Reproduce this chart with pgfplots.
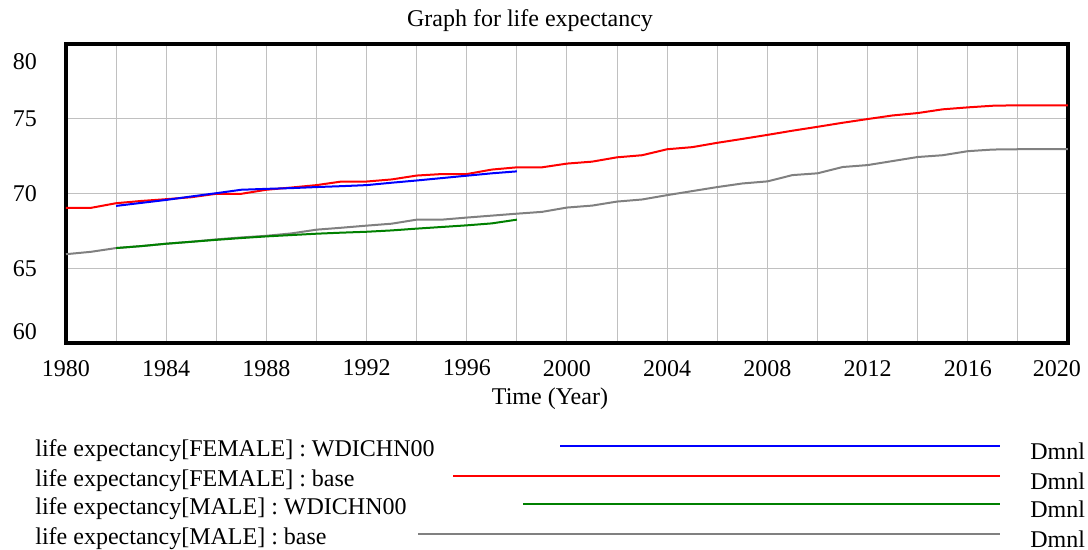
\documentclass[border=0pt]{standalone}
\usepackage{fontspec}
\setmainfont{Liberation Serif}
\usepackage{pgfplots}
\pgfplotsset{compat=1.18}

\definecolor{vred}{RGB}{255,0,0}
\definecolor{vblue}{RGB}{0,0,255}
\definecolor{vgreen}{RGB}{0,128,0}
\definecolor{vgray}{RGB}{128,128,128}
\definecolor{gridgray}{RGB}{192,192,192}

% life expectancy, female / male, base run and WDICHN00 data
\pgfplotstableread{
year val
1980 69.04
1981 69.04
1982 69.35
1983 69.50
1984 69.62
1985 69.75
1986 69.98
1987 69.98
1988 70.25
1989 70.40
1990 70.56
1991 70.80
1992 70.80
1993 70.94
1994 71.20
1995 71.30
1996 71.30
1997 71.60
1998 71.75
1999 71.75
2000 72.00
2001 72.13
2002 72.42
2003 72.56
2004 72.96
2005 73.10
2006 73.39
2007 73.65
2008 73.92
2009 74.20
2010 74.46
2011 74.73
2012 74.98
2013 75.22
2014 75.38
2015 75.63
2016 75.76
2017 75.87
2018 75.90
2019 75.90
2020 75.90
}\femalebase

\pgfplotstableread{
year val
1980 65.94
1981 66.10
1982 66.35
1983 66.48
1984 66.64
1985 66.77
1986 66.93
1987 67.06
1988 67.17
1989 67.33
1990 67.58
1991 67.71
1992 67.85
1993 67.98
1994 68.25
1995 68.25
1996 68.39
1997 68.52
1998 68.65
1999 68.77
2000 69.06
2001 69.19
2002 69.46
2003 69.60
2004 69.89
2005 70.16
2006 70.43
2007 70.67
2008 70.81
2009 71.23
2010 71.35
2011 71.77
2012 71.90
2013 72.17
2014 72.44
2015 72.56
2016 72.83
2017 72.94
2018 72.96
2019 72.96
2020 72.96
}\malebase

\pgfplotstableread{
year val
1982 69.17
1983 69.37
1984 69.57
1985 69.80
1986 70.02
1987 70.25
1988 70.31
1989 70.36
1990 70.43
1991 70.49
1992 70.56
1993 70.72
1994 70.87
1995 71.03
1996 71.19
1997 71.35
1998 71.48
}\femalewdi

\pgfplotstableread{
year val
1982 66.35
1983 66.48
1984 66.64
1985 66.77
1986 66.90
1987 67.02
1988 67.13
1989 67.22
1990 67.31
1991 67.38
1992 67.44
1993 67.53
1994 67.65
1995 67.76
1996 67.87
1997 68.00
1998 68.25
}\malewdi

\begin{document}
\begin{tikzpicture}[font=\fontsize{12}{14}\selectfont]
\path[use as bounding box] (0,0) rectangle (544pt,275pt);
\begin{axis}[
    at={(33pt,103.5pt)}, anchor=south west,
    scale only axis,
    width=501pt, height=149.5pt,
    xmin=1980, xmax=2020, ymin=60, ymax=80,
    xtick={1980,1984,...,2020},
    xticklabels={\textrm{1980},\textrm{1984},\textrm{1988},\textrm{1992},\textrm{1996},\textrm{2000},\textrm{2004},\textrm{2008},\textrm{2012},\textrm{2016},{\textrm{2020}\hspace*{11pt}}},
    minor xtick={1982,1986,...,2018},
    ytick={65,70,75},
    yticklabels={\textrm{65},\textrm{70},\textrm{75}},
    extra y ticks={60.73,78.8},
    extra y tick labels={\textrm{60},\textrm{80}},
    extra y tick style={grid=none},
    major tick length=0pt, minor tick length=0pt,
    grid=both,
    major grid style={gridgray, line width=0.5pt},
    minor grid style={gridgray, line width=0.5pt},
    axis line style={black, line width=1.6pt},
    ticklabel style={font=\fontsize{12}{14}\selectfont},
    xticklabel style={yshift=-5pt},
    yticklabel style={xshift=-11pt},
    clip=false,
]
\addplot[vgray, line width=1pt] table[x=year, y=val] {\malebase};
\addplot[vred, line width=1pt] table[x=year, y=val] {\femalebase};
\addplot[vgreen, line width=1pt] table[x=year, y=val] {\malewdi};
\addplot[vblue, line width=1pt] table[x=year, y=val] {\femalewdi};
\end{axis}

\node at (265pt,264.5pt) {Graph for life expectancy};
\node at (275pt,75.5pt) {Time (Year)};

\node[anchor=west, inner sep=0pt] at (17.5pt,49.5pt) {life expectancy[FEMALE] : WDICHN00};
\node[anchor=west, inner sep=0pt] at (17.5pt,34.5pt) {life expectancy[FEMALE] : base};
\node[anchor=west, inner sep=0pt] at (17.5pt,20.5pt) {life expectancy[MALE] : WDICHN00};
\node[anchor=west, inner sep=0pt] at (17.5pt,5.5pt) {life expectancy[MALE] : base};
\draw[vblue, line width=1pt] (280pt,52pt) -- (500pt,52pt);
\draw[vred, line width=1pt] (226.5pt,37pt) -- (500pt,37pt);
\draw[vgreen, line width=1pt] (261.5pt,23pt) -- (500pt,23pt);
\draw[vgray, line width=1pt] (209pt,8pt) -- (500pt,8pt);
\foreach \yy in {49.5,34.5,20.5,5.5} {
  \node[anchor=west, inner sep=0pt] at (515pt,\yy pt) {Dmnl};
}
\end{tikzpicture}
\end{document}
